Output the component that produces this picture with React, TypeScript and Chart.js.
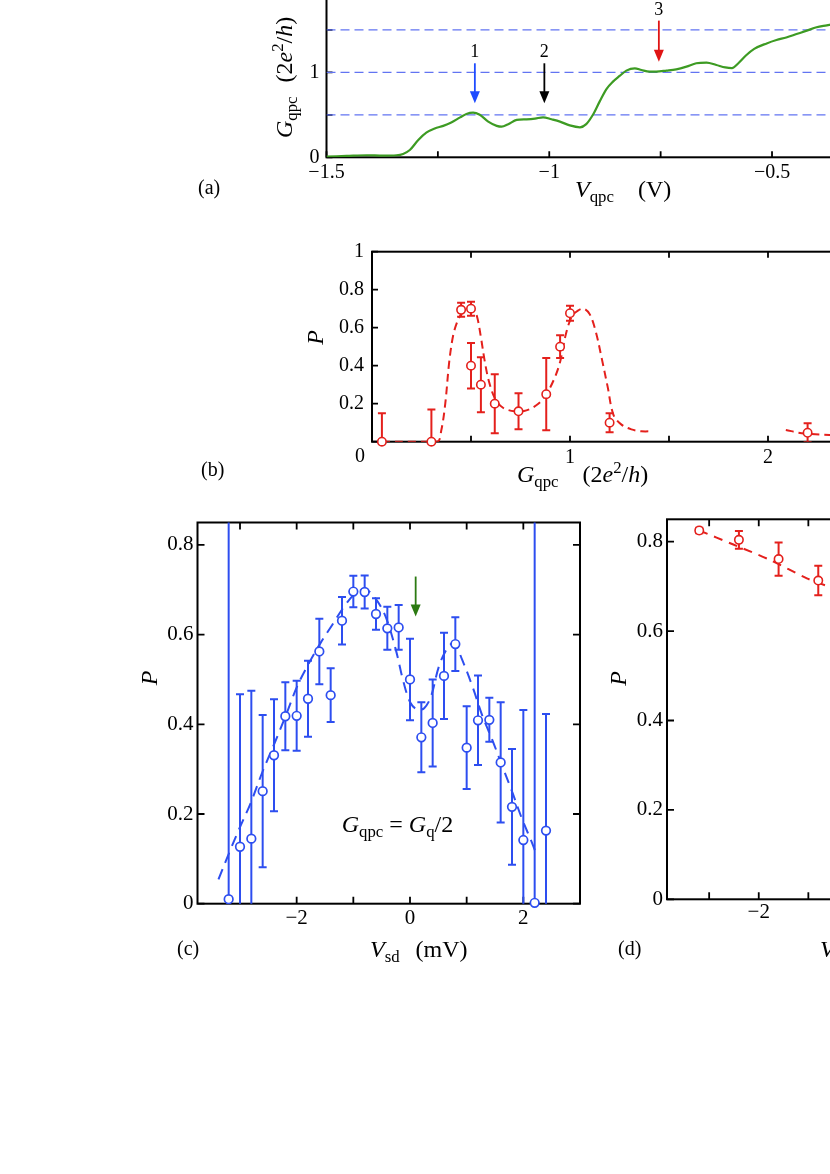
import React, { useEffect, useRef } from 'react';
import { Chart, registerables } from 'chart.js';

Chart.register(...registerables);

const SERIF = '"Liberation Serif", "Times New Roman", Times, serif';

// ---------------- Panel (a): G_qpc vs V_qpc ----------------
const aVqpc = [-1.5, -1.455, -1.41, -1.373, -1.343, -1.328, -1.313, -1.294, -1.276, -1.257, -1.238, -1.22, -1.2, -1.186, -1.171, -1.156, -1.137, -1.118, -1.107, -1.092, -1.073, -1.051, -1.032, -1.014, -0.995, -0.976, -0.954, -0.931, -0.917, -0.902, -0.887, -0.872, -0.857, -0.842, -0.827, -0.808, -0.793, -0.775, -0.76, -0.737, -0.715, -0.692, -0.67, -0.647, -0.625, -0.605, -0.59, -0.575, -0.558, -0.54, -0.512, -0.49, -0.468, -0.445, -0.422, -0.4, -0.377, -0.35];
const aGqpc = [0.008, 0.016, 0.024, 0.02, 0.024, 0.04, 0.086, 0.204, 0.29, 0.34, 0.37, 0.41, 0.47, 0.51, 0.525, 0.5, 0.42, 0.37, 0.36, 0.39, 0.44, 0.447, 0.455, 0.47, 0.447, 0.42, 0.375, 0.353, 0.39, 0.5, 0.655, 0.8, 0.89, 0.957, 1.02, 1.047, 1.027, 1.008, 1.008, 1.02, 1.035, 1.067, 1.106, 1.114, 1.086, 1.058, 1.05, 1.11, 1.2, 1.275, 1.34, 1.38, 1.41, 1.45, 1.49, 1.53, 1.553, 1.58];
const aPlateaus = [0.5, 1, 1.5];
const aArrowV = [-1.167, -1.011, -0.754];
const aArrowFrom = [1.106, 1.106, 1.608];
const aArrowTo = [0.635, 0.635, 1.125];
const aArrowLabels = ['1', '2', '3'];
const aArrowColors = ['#1f4cff', '#000000', '#e01414'];
const aXTicks = [-1.5, -1.25, -1, -0.75, -0.5, -0.25];
const aXLabels = ['\u22121.5', '', '\u22121', '', '\u22120.5', ''];
const aYTicks = [0, 0.5, 1, 1.5, 2];
const aYLabels = ['0', '', '1', '', ''];

// ---------------- Panel (b): P vs G_qpc ----------------
const bG = [0.05, 0.3, 0.45, 0.5, 0.5, 0.55, 0.62, 0.74, 0.88, 0.95, 1.0, 1.2, 2.2];
const bP = [0, 0, 0.694, 0.7, 0.4, 0.3, 0.2, 0.16, 0.25, 0.5, 0.676, 0.1, 0.047];
const bErr = [0.15, 0.17, 0.037, 0.037, 0.12, 0.145, 0.155, 0.095, 0.19, 0.06, 0.04, 0.05, 0.05];
const bFitG1 = [0.05, 0.2, 0.33, 0.35, 0.37, 0.39, 0.41, 0.43, 0.45, 0.48, 0.51, 0.53, 0.55, 0.57, 0.59, 0.62, 0.66, 0.72, 0.78, 0.84, 0.88, 0.92, 0.95, 0.98, 1.01, 1.04, 1.07, 1.1, 1.13, 1.16, 1.19, 1.22, 1.26, 1.31, 1.36, 1.42];
const bFitP1 = [0, 0, 0, 0.06, 0.2, 0.42, 0.56, 0.63, 0.67, 0.7, 0.7, 0.66, 0.55, 0.42, 0.32, 0.23, 0.18, 0.16, 0.165, 0.2, 0.25, 0.33, 0.42, 0.57, 0.66, 0.69, 0.7, 0.67, 0.58, 0.44, 0.29, 0.14, 0.09, 0.065, 0.055, 0.055];
const bFitG2 = [2.09, 2.17, 2.31, 2.5];
const bFitP2 = [0.062, 0.045, 0.035, 0.03];
const bXTicks = [0, 0.5, 1, 1.5, 2, 2.5];
const bXLabels = ['', '', '1', '', '2', ''];
const bYTicks = [0, 0.2, 0.4, 0.6, 0.8, 1];
const bYLabels = ['', '0.2', '0.4', '0.6', '0.8', '1'];

// ---------------- Panel (c): P vs V_sd at G_q/2 ----------------
const cV = [-3.2, -3.0, -2.8, -2.6, -2.4, -2.2, -2.0, -1.8, -1.6, -1.4, -1.2, -1.0, -0.8, -0.6, -0.4, -0.2, 0, 0.2, 0.4, 0.6, 0.8, 1.0, 1.2, 1.4, 1.6, 1.8, 2.0, 2.2, 2.4];
const cP = [0.01, 0.127, 0.145, 0.251, 0.331, 0.418, 0.419, 0.457, 0.5625, 0.465, 0.631, 0.696, 0.695, 0.646, 0.614, 0.616, 0.5, 0.371, 0.403, 0.508, 0.579, 0.348, 0.409, 0.41, 0.315, 0.216, 0.142, 0.002, 0.163];
const cErr = [1, 0.34, 0.33, 0.17, 0.125, 0.076, 0.078, 0.085, 0.073, 0.06, 0.053, 0.035, 0.037, 0.035, 0.048, 0.05, 0.091, 0.078, 0.097, 0.096, 0.06, 0.092, 0.1, 0.049, 0.134, 0.129, 0.29, 1, 0.26];
const cFitV = [-3.38, -3.19, -3.02, -2.81, -2.61, -2.4, -2.19, -1.99, -1.78, -1.58, -1.37, -1.16, -0.96, -0.78, -0.61, -0.43, -0.25, -0.11, 0.01, 0.13, 0.25, 0.37, 0.51, 0.66, 0.78, 0.92, 1.1, 1.28, 1.45, 1.63, 1.81, 1.98, 2.13, 2.21];
const cFitP = [0.054, 0.114, 0.165, 0.225, 0.292, 0.355, 0.42, 0.485, 0.537, 0.581, 0.622, 0.663, 0.692, 0.7, 0.681, 0.64, 0.566, 0.492, 0.4475, 0.433, 0.436, 0.462, 0.529, 0.57, 0.581, 0.544, 0.485, 0.418, 0.366, 0.306, 0.247, 0.188, 0.143, 0.117];
const cArrowV = [0.1];
const cArrowFrom = [0.7295];
const cArrowTo = [0.6404];
const cXTicks = [-3, -2, -1, 0, 1, 2, 3];
const cXLabels = ['', '\u22122', '', '0', '', '2', ''];
const cYTicks = [0, 0.2, 0.4, 0.6, 0.8];
const cYLabels = ['0', '0.2', '0.4', '0.6', '0.8'];

// ---------------- Panel (d): P vs V_sd ----------------
const dV = [-3.2, -2.4, -1.6, -0.8];
const dP = [0.825, 0.804, 0.761, 0.713];
const dErr = [0.006, 0.02, 0.037, 0.033];
const dFitV = [-3.2, -2.5, -1.77, -1.03, -0.56, -0.3];
const dFitP = [0.825, 0.793, 0.759, 0.718, 0.698, 0.686];
const dXTicks = [-3, -2, -1, 0, 1, 2, 3];
const dXLabels = ['', '\u22122', '', '0', '', '2', ''];
const dYTicks = [0, 0.2, 0.4, 0.6, 0.8];
const dYLabels = ['0', '0.2', '0.4', '0.6', '0.8'];

// ---------------- colours ----------------
const GREEN = '#3d9b23';
const BLUE = '#2d4ef0';
const RED = '#e4201c';
const PLATEAU = '#6274f2';

// ---------------- helpers ----------------
type Part = { t: string; it?: boolean; sub?: boolean; sup?: boolean; gap?: number };
type TextItem = { parts: Part[]; x: number; y: number; size: number; align?: 'left' | 'center' | 'right'; rot?: boolean; middle?: boolean };
type Box = { cx0: number; cy0: number; cx1: number; cy1: number; L: number; T: number; R: number; B: number };

const YW = 60;
const XH = 30;

function drawRich(ctx: CanvasRenderingContext2D, item: TextItem, x: number, y: number) {
  const { parts, size } = item;
  const fontOf = (p: Part) => `${p.it ? 'italic ' : ''}${p.sub || p.sup ? size * 0.7 : size}px ${SERIF}`;
  const widths: number[] = [];
  let total = 0;
  for (const p of parts) {
    ctx.font = fontOf(p);
    const w = ctx.measureText(p.t).width;
    widths.push(w);
    total += (p.gap || 0) + w;
  }
  ctx.save();
  ctx.translate(x, y);
  if (item.rot) ctx.rotate(-Math.PI / 2);
  let cx = item.align === 'center' ? -total / 2 : item.align === 'right' ? -total : 0;
  ctx.textAlign = 'left';
  ctx.textBaseline = item.middle ? 'middle' : 'alphabetic';
  ctx.fillStyle = '#000';
  parts.forEach((p, i) => {
    cx += p.gap || 0;
    ctx.font = fontOf(p);
    const dy = p.sub ? size * 0.22 : p.sup ? -size * 0.38 : 0;
    ctx.fillText(p.t, cx, dy);
    cx += widths[i];
  });
  ctx.restore();
}

function textPlugin(items: TextItem[], ox: number, oy: number) {
  return {
    id: 'texts',
    afterDraw(chart: any) {
      for (const it of items) drawRich(chart.ctx, it, it.x - ox, it.y - oy);
    },
  };
}

function framePlugin(tickLen: number) {
  return {
    id: 'frameTicks',
    beforeDatasetsDraw(chart: any) {
      const { ctx, chartArea: a, scales } = chart;
      const xs = scales.x;
      const ys = scales.y;
      ctx.save();
      ctx.strokeStyle = '#000';
      ctx.lineWidth = 1.8;
      ctx.beginPath();
      for (const t of xs.ticks) {
        const px = xs.getPixelForValue(t.value);
        ctx.moveTo(px, a.bottom);
        ctx.lineTo(px, a.bottom - tickLen);
        ctx.moveTo(px, a.top);
        ctx.lineTo(px, a.top + tickLen);
      }
      for (const t of ys.ticks) {
        const py = ys.getPixelForValue(t.value);
        ctx.moveTo(a.left, py);
        ctx.lineTo(a.left + tickLen, py);
        ctx.moveTo(a.right, py);
        ctx.lineTo(a.right - tickLen, py);
      }
      ctx.stroke();
      ctx.lineWidth = 2;
      ctx.strokeRect(a.left, a.top, a.right - a.left, a.bottom - a.top);
      ctx.restore();
    },
  };
}

function errorBarPlugin(xs: number[], ys: number[], errs: number[], color: string, capW: number, lw: number) {
  return {
    id: 'errorBars',
    beforeDatasetsDraw(chart: any) {
      const { ctx, chartArea: a, scales } = chart;
      ctx.save();
      ctx.beginPath();
      ctx.rect(a.left, a.top, a.right - a.left, a.bottom - a.top);
      ctx.clip();
      ctx.strokeStyle = color;
      ctx.lineWidth = lw;
      ctx.beginPath();
      xs.forEach((xv, i) => {
        const px = scales.x.getPixelForValue(xv);
        const y1 = scales.y.getPixelForValue(ys[i] + errs[i]);
        const y2 = scales.y.getPixelForValue(ys[i] - errs[i]);
        ctx.moveTo(px, y1);
        ctx.lineTo(px, y2);
        ctx.moveTo(px - capW / 2, y1);
        ctx.lineTo(px + capW / 2, y1);
        ctx.moveTo(px - capW / 2, y2);
        ctx.lineTo(px + capW / 2, y2);
      });
      ctx.stroke();
      ctx.restore();
    },
  };
}

function arrowPlugin(xs: number[], from: number[], to: number[], colors: string[], labels: string[], labelSize: number) {
  return {
    id: 'arrows',
    afterDatasetsDraw(chart: any) {
      const { ctx, scales } = chart;
      xs.forEach((xv, i) => {
        const px = scales.x.getPixelForValue(xv);
        const y0 = scales.y.getPixelForValue(from[i]);
        const y1 = scales.y.getPixelForValue(to[i]);
        const headL = 12;
        const headW = 10;
        ctx.save();
        ctx.strokeStyle = colors[i];
        ctx.fillStyle = colors[i];
        ctx.lineWidth = 1.8;
        ctx.beginPath();
        ctx.moveTo(px, y0);
        ctx.lineTo(px, y1 - headL + 1);
        ctx.stroke();
        ctx.beginPath();
        ctx.moveTo(px - headW / 2, y1 - headL);
        ctx.lineTo(px + headW / 2, y1 - headL);
        ctx.lineTo(px, y1);
        ctx.closePath();
        ctx.fill();
        if (labels[i]) {
          ctx.fillStyle = '#000';
          ctx.font = `${labelSize}px ${SERIF}`;
          ctx.textAlign = 'center';
          ctx.textBaseline = 'alphabetic';
          ctx.fillText(labels[i], px, y0 - 6);
        }
        ctx.restore();
      });
    },
  };
}

function linScale(min: number, max: number, ticks: number[], labels: string[], size: number, pad: number, axis: 'x' | 'y') {
  return {
    type: 'linear',
    min,
    max,
    grid: { display: false, drawTicks: false },
    border: { display: false },
    ticks: {
      autoSkip: false,
      maxRotation: 0,
      minRotation: 0,
      includeBounds: false,
      padding: pad,
      color: '#000',
      font: { family: SERIF, size },
      callback: (_v: any, i: number) => labels[i],
    },
    afterBuildTicks: (s: any) => {
      s.ticks = ticks.map((v) => ({ value: v }));
    },
    afterFit: (s: any) => {
      if (axis === 'y') s.width = YW;
      else s.height = XH;
    },
  };
}

function pts(xs: number[], ys: number[]) {
  return xs.map((x, i) => ({ x, y: ys[i] }));
}

function baseOptions(box: Box, xScale: any, yScale: any) {
  return {
    responsive: false,
    animation: false,
    events: [],
    layout: {
      padding: { left: box.L - box.cx0 - YW, top: box.T - box.cy0, right: box.cx1 - box.R, bottom: box.cy1 - box.B - XH },
    },
    plugins: { legend: { display: false }, tooltip: { enabled: false }, title: { display: false } },
    scales: { x: xScale, y: yScale },
  };
}

const sub = (t: string, gap?: number): Part => ({ t, sub: true, gap });
const it = (t: string, gap?: number): Part => ({ t, it: true, gap });
const rm = (t: string, gap?: number): Part => ({ t, gap });
const sup = (t: string): Part => ({ t, sup: true });

// ---------------- boxes (page pixels) ----------------
const boxA: Box = { cx0: 180, cy0: -35, cx1: 900, cy1: 210, L: 326.5, T: -12.7, R: 883.4, B: 157.3 };
const boxB: Box = { cx0: 190, cy0: 225, cx1: 890, cy1: 495, L: 372, T: 251.7, R: 867, B: 441.7 };
const boxC: Box = { cx0: 130, cy0: 500, cx1: 600, cy1: 975, L: 197.5, T: 522.5, R: 580, B: 903.7 };
const boxD: Box = { cx0: 600, cy0: 495, cx1: 1070, cy1: 975, L: 667, T: 519.3, R: 1048.9, B: 899.3 };

function makeA() {
  const datasets: any[] = [
    { data: pts(aVqpc, aGqpc), borderColor: GREEN, borderWidth: 2.2, pointRadius: 0, cubicInterpolationMode: 'monotone', fill: false },
    ...aPlateaus.map((v) => ({
      data: pts([-1.5, -0.25], [v, v]),
      borderColor: PLATEAU,
      borderWidth: 1.3,
      borderDash: [9, 5],
      pointRadius: 0,
      fill: false,
    })),
  ];
  const texts: TextItem[] = [
    { parts: [it('V'), sub('qpc'), rm('(V)', 24)], x: 575, y: 197, size: 24 },
    { parts: [it('G'), sub('qpc'), rm('(2', 14), it('e'), sup('2'), rm('/'), it('h'), rm(')')], x: 292, y: 138, size: 24, rot: true },
    { parts: [rm('(a)')], x: 198, y: 194, size: 20 },
  ];
  return {
    type: 'line',
    data: { datasets },
    options: baseOptions(boxA, linScale(-1.5, -0.25, aXTicks, aXLabels, 20, 3, 'x'), linScale(0, 2, aYTicks, aYLabels, 20, 7, 'y')),
    plugins: [framePlugin(6), arrowPlugin(aArrowV, aArrowFrom, aArrowTo, aArrowColors, aArrowLabels, 18), textPlugin(texts, boxA.cx0, boxA.cy0)],
  };
}

function makeB() {
  const datasets: any[] = [
    { data: pts(bG, bP), showLine: false, pointRadius: 4.2, pointBorderWidth: 1.6, pointBackgroundColor: '#fff', pointBorderColor: RED, clip: 8 },
    { data: pts(bFitG1, bFitP1), borderColor: RED, borderWidth: 2, borderDash: [8, 5], pointRadius: 0, tension: 0.35, fill: false },
    { data: pts(bFitG2, bFitP2), borderColor: RED, borderWidth: 2, borderDash: [8, 5], pointRadius: 0, tension: 0.35, fill: false },
  ];
  const texts: TextItem[] = [
    { parts: [it('G'), sub('qpc'), rm('(2', 24), it('e'), sup('2'), rm('/'), it('h'), rm(')')], x: 517, y: 481.7, size: 24 },
    { parts: [it('P')], x: 323, y: 337.5, size: 24, rot: true, align: 'center' },
    { parts: [rm('(b)')], x: 201, y: 476, size: 20 },
    { parts: [rm('0')], x: 365, y: 457, size: 20, align: 'right', middle: true },
  ];
  return {
    type: 'line',
    data: { datasets },
    options: baseOptions(boxB, linScale(0, 2.5, bXTicks, bXLabels, 20, 4, 'x'), linScale(0, 1, bYTicks, bYLabels, 20, 8, 'y')),
    plugins: [framePlugin(6), errorBarPlugin(bG, bP, bErr, RED, 8, 2), textPlugin(texts, boxB.cx0, boxB.cy0)],
  };
}

function makeC() {
  const datasets: any[] = [
    { data: pts(cV, cP), showLine: false, pointRadius: 4.3, pointBorderWidth: 1.7, pointBackgroundColor: '#fff', pointBorderColor: BLUE, clip: 8 },
    { data: pts(cFitV, cFitP), borderColor: BLUE, borderWidth: 2, borderDash: [11, 7], pointRadius: 0, tension: 0.35, fill: false },
  ];
  const texts: TextItem[] = [
    { parts: [it('V'), sub('sd'), rm('(mV)', 16)], x: 370, y: 956.7, size: 24 },
    { parts: [it('P')], x: 156.7, y: 678, size: 24, rot: true, align: 'center' },
    { parts: [rm('(c)')], x: 177, y: 955, size: 20 },
    { parts: [it('G'), sub('qpc'), rm(' = '), it('G'), sub('q'), rm('/2')], x: 341.7, y: 831.7, size: 24 },
  ];
  return {
    type: 'line',
    data: { datasets },
    options: baseOptions(boxC, linScale(-3.75, 3, cXTicks, cXLabels, 21, 2, 'x'), linScale(0, 0.85, cYTicks, cYLabels, 21, 4, 'y')),
    plugins: [
      framePlugin(7),
      errorBarPlugin(cV, cP, cErr, BLUE, 8, 2),
      arrowPlugin(cArrowV, cArrowFrom, cArrowTo, ['#2c7a12'], [''], 18),
      textPlugin(texts, boxC.cx0, boxC.cy0),
    ],
  };
}

function makeD() {
  const datasets: any[] = [
    { data: pts(dV, dP), showLine: false, pointRadius: 4.2, pointBorderWidth: 1.6, pointBackgroundColor: '#fff', pointBorderColor: RED, clip: 8 },
    { data: pts(dFitV, dFitP), borderColor: RED, borderWidth: 2, borderDash: [9, 7], pointRadius: 0, tension: 0.3, fill: false },
  ];
  const texts: TextItem[] = [
    { parts: [it('V'), sub('sd'), rm('(mV)', 16)], x: 820, y: 956.7, size: 24 },
    { parts: [it('P')], x: 626, y: 678.5, size: 24, rot: true, align: 'center' },
    { parts: [rm('(d)')], x: 618, y: 955, size: 20 },
  ];
  return {
    type: 'line',
    data: { datasets },
    options: baseOptions(boxD, linScale(-3.85, 3.85, dXTicks, dXLabels, 21, 1, 'x'), linScale(0, 0.85, dYTicks, dYLabels, 21, 4, 'y')),
    plugins: [framePlugin(7), errorBarPlugin(dV, dP, dErr, RED, 8, 2), textPlugin(texts, boxD.cx0, boxD.cy0)],
  };
}

function PanelChart({ box, make }: { box: Box; make: () => any }) {
  const ref = useRef<HTMLCanvasElement>(null);
  useEffect(() => {
    const chart = new Chart(ref.current as HTMLCanvasElement, make());
    return () => chart.destroy();
  }, []);
  const w = box.cx1 - box.cx0;
  const h = box.cy1 - box.cy0;
  return (
    <canvas
      ref={ref}
      width={w}
      height={h}
      style={{ position: 'absolute', left: box.cx0, top: box.cy0, width: w, height: h }}
    />
  );
}

export default function App() {
  return (
    <div style={{ position: 'fixed', left: 0, top: 0, width: 830, height: 1174, overflow: 'hidden', background: '#fff' }}>
      <PanelChart box={boxA} make={makeA} />
      <PanelChart box={boxB} make={makeB} />
      <PanelChart box={boxC} make={makeC} />
      <PanelChart box={boxD} make={makeD} />
    </div>
  );
}
